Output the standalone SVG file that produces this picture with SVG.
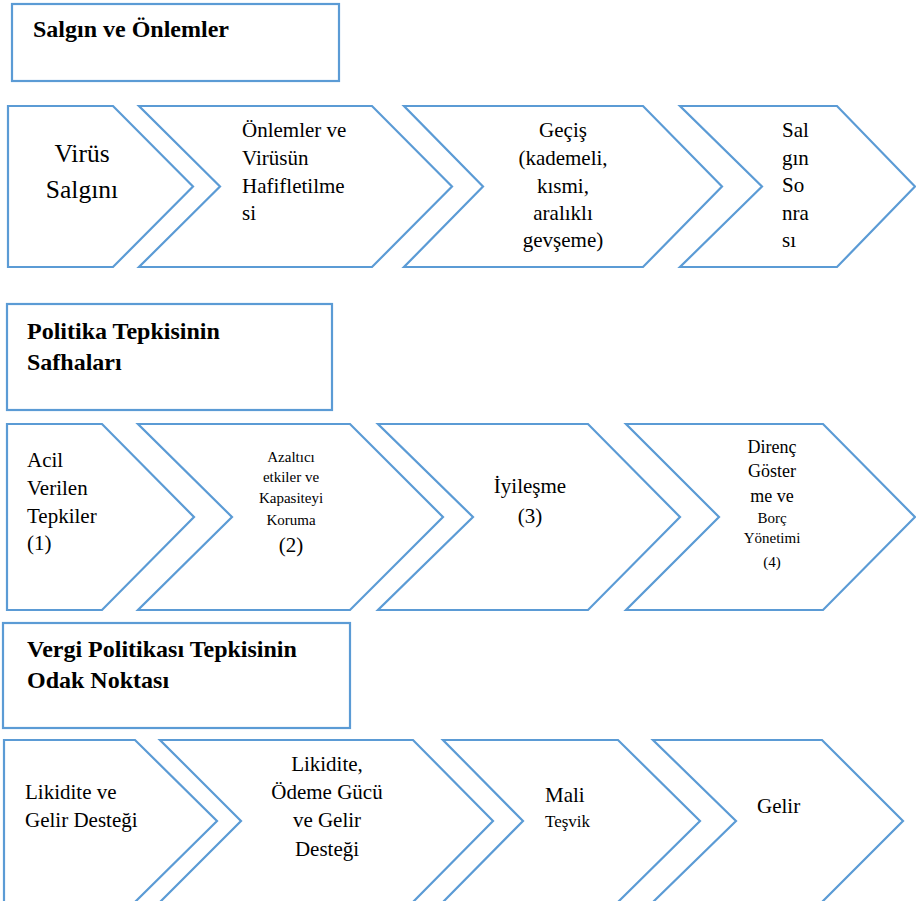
<svg xmlns="http://www.w3.org/2000/svg" width="916" height="901" viewBox="0 0 916 901" font-family="'Liberation Serif', 'DejaVu Serif', serif">
<style>
.sh{fill:#fff;stroke:#5B9BD5;stroke-width:2.2;stroke-linejoin:miter}
text{font-family:'Liberation Serif','DejaVu Serif',serif;fill:#000}
.t{font-weight:bold;font-size:24px}
.n{font-size:21px}
.c{text-anchor:middle}
</style>
<rect width="916" height="901" fill="#fff"/>
<g id="title1"><rect class="sh" x="12" y="4" width="327" height="77"/><text class="t" x="33" y="37">Salgın ve Önlemler</text></g>
<g id="r1c1"><path class="sh" d="M8,106 L113,106 L193,186.5 L113,267 L8,267 Z"/><text class="c" style="font-size:25.5px" x="82" y="162">Virüs</text><text class="c" style="font-size:25.5px" x="82" y="198">Salgını</text></g>
<g id="r1c2"><path class="sh" d="M139,106 L372,106 L452,186.5 L372,267 L139,267 L220,186.5 Z"/><text class="n" x="242" y="137">Önlemler ve</text><text class="n" x="242" y="165">Virüsün</text><text class="n" x="242" y="193">Hafifletilme</text><text class="n" x="242" y="220">si</text></g>
<g id="r1c3"><path class="sh" d="M404,106 L643,106 L722,186.5 L643,267 L404,267 L483,186.5 Z"/><text class="n c" x="563" y="137">Geçiş</text><text class="n c" x="563" y="165">(kademeli,</text><text class="n c" x="563" y="193">kısmi,</text><text class="n c" x="563" y="220">aralıklı</text><text class="n c" x="563" y="247">gevşeme)</text></g>
<g id="r1c4"><path class="sh" d="M680,106 L837,106 L915,186.5 L837,267 L680,267 L762,186.5 Z"/><text class="n" x="782" y="137">Sal</text><text class="n" x="782" y="165">gın</text><text class="n" x="782" y="192">So</text><text class="n" x="782" y="220">nra</text><text class="n" x="782" y="247">sı</text></g>
<g id="title2"><rect class="sh" x="7" y="304" width="325" height="106"/><text class="t" x="27" y="339">Politika Tepkisinin</text><text class="t" x="27" y="370">Safhaları</text></g>
<g id="r2c1"><path class="sh" d="M7,424 L102,424 L194,517 L102,610 L7,610 Z"/><text class="n" x="27" y="467">Acil</text><text class="n" x="27" y="495">Verilen</text><text class="n" x="27" y="523">Tepkiler</text><text class="n" x="27" y="550">(1)</text></g>
<g id="r2c2"><path class="sh" d="M138,424 L350,424 L443,517 L350,610 L138,610 L232,517 Z"/><text class="c" style="font-size:15px" x="291" y="462">Azaltıcı</text><text class="c" style="font-size:15px" x="291" y="482">etkiler ve</text><text class="c" style="font-size:15px" x="291" y="503">Kapasiteyi</text><text class="c" style="font-size:15px" x="291" y="525">Koruma</text><text class="n c" x="291" y="552">(2)</text></g>
<g id="r2c3"><path class="sh" d="M378,424 L588,424 L680,517 L588,610 L378,610 L473,517 Z"/><text class="n c" x="530" y="493">İyileşme</text><text class="n c" x="530" y="523">(3)</text></g>
<g id="r2c4"><path class="sh" d="M626,424 L823,424 L915,517 L823,610 L626,610 L719,517 Z"/><text class="c" style="font-size:18px" x="772" y="453">Direnç</text><text class="c" style="font-size:18px" x="772" y="477">Göster</text><text class="c" style="font-size:18px" x="772" y="502">me ve</text><text class="c" style="font-size:15px" x="772" y="523">Borç</text><text class="c" style="font-size:15px" x="772" y="543">Yönetimi</text><text class="c" style="font-size:15px" x="772" y="567">(4)</text></g>
<g id="title3"><rect class="sh" x="3" y="623" width="347" height="105"/><text class="t" x="27" y="657">Vergi Politikası Tepkisinin</text><text class="t" x="27" y="688">Odak Noktası</text></g>
<g id="r3c1"><path class="sh" d="M4,740 L135,740 L217,821 L135,902 L4,902 Z"/><text class="n" x="25" y="799">Likidite ve</text><text class="n" x="25" y="827">Gelir Desteği</text></g>
<g id="r3c2"><path class="sh" d="M160,740 L413,740 L493,821 L413,902 L160,902 L241,821 Z"/><text class="n c" x="327" y="771">Likidite,</text><text class="n c" x="327" y="799">Ödeme Gücü</text><text class="n c" x="327" y="827">ve Gelir</text><text class="n c" x="327" y="856">Desteği</text></g>
<g id="r3c3"><path class="sh" d="M443,740 L618,740 L700,821 L618,902 L443,902 L523,821 Z"/><text class="n" x="545" y="802">Mali</text><text style="font-size:17px" x="545" y="827">Teşvik</text></g>
<g id="r3c4"><path class="sh" d="M653,740 L822,740 L903,821 L822,902 L653,902 L736,821 Z"/><text class="n" x="757" y="813">Gelir</text></g>
<g id="connectors"/>
</svg>
